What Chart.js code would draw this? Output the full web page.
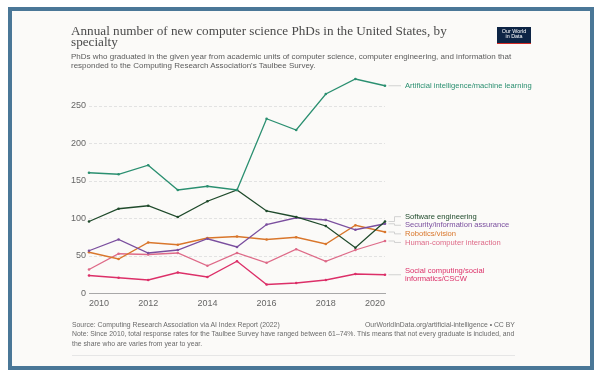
<!DOCTYPE html>
<html>
<head>
<meta charset="utf-8">
<script src="https://cdn.jsdelivr.net/npm/chart.js@4.4.0/dist/chart.umd.min.js"></script>
<style>
  html, body { margin: 0; padding: 0; background: #ffffff; width: 614px; height: 379px; overflow: hidden; }
  #frame { position: absolute; left: 8px; top: 7px; width: 578px; height: 355px; border: 4px solid #4a7797; background: #fbfaf8; }
  #chart { position: absolute; left: 0; top: 0; }
  .t { position: absolute; white-space: nowrap; will-change: transform; -webkit-font-smoothing: antialiased; }
  #title { left: 71px; top: 25.8px; font-family: "Liberation Serif", "Times New Roman", serif; font-size: 13.2px; line-height: 10.5px; color: #4a4a4a; }
  #subtitle { left: 71px; top: 51.6px; font-family: "Liberation Sans", Arial, sans-serif; font-size: 8px; line-height: 9.4px; color: #5b5b5b; }
  #logo { position: absolute; left: 497px; top: 27px; width: 34px; height: 14.5px; background: #0d2445; border-bottom: 1.8px solid #d42a24; color: #fff; font-family: "Liberation Sans", Arial, sans-serif; font-size: 5.4px; line-height: 5.6px; text-align: center; padding-top: 1.6px; box-sizing: content-box; will-change: transform; }
  #src { left: 72px; top: 319.6px; font-family: "Liberation Sans", Arial, sans-serif; font-size: 6.85px; line-height: 9.8px; color: #6a6a6a; }
  #url { right: 99px; top: 319.6px; font-family: "Liberation Sans", Arial, sans-serif; font-size: 6.85px; line-height: 9.8px; color: #6a6a6a; }
  #note { left: 72px; top: 329.4px; font-family: "Liberation Sans", Arial, sans-serif; font-size: 6.85px; line-height: 9.9px; color: #6a6a6a; }
  #rule { position: absolute; left: 72px; top: 355px; width: 443px; height: 0; border-top: 1px solid #e6e6e6; }
</style>
</head>
<body>
<div id="frame"></div>
<div class="t" id="title">Annual number of new computer science PhDs in the United States, by<br>specialty</div>
<div class="t" id="subtitle">PhDs who graduated in the given year from academic units of computer science, computer engineering, and information that<br>responded to the Computing Research Association's Taulbee Survey.</div>
<div id="logo">Our World<br>in Data</div>
<canvas id="chart" width="614" height="379"></canvas>
<div class="t" id="src">Source: Computing Research Association via AI Index Report (2022)</div>
<div class="t" id="url">OurWorldInData.org/artificial-intelligence • CC BY</div>
<div class="t" id="note">Note: Since 2010, total response rates for the Taulbee Survey have ranged between 61–74%. This means that not every graduate is included, and<br>the share who are varies from year to year.</div>
<div id="rule"></div>
<script>
// ---- data ----
const years = [2010, 2011, 2012, 2013, 2014, 2015, 2016, 2017, 2018, 2019, 2020];
const aiML = [161, 159, 171, 138, 143, 138, 233, 218, 266, 286, 277];
const softwareEng = [96, 113, 117, 102, 123, 138, 110, 102, 90, 61, 96];
const security = [57, 72, 54, 58, 73, 62, 92, 101, 98, 85, 93];
const robotics = [55, 46, 68, 65, 74, 76, 72, 75, 66, 91, 82];
const hci = [32, 53, 52, 54, 37, 54, 41, 59, 43, 58, 70];
const socialComputing = [24, 21, 18, 28, 22, 43, 12, 14, 18, 26, 25];
const yTicks = [0, 50, 100, 150, 200, 250];
const xTicks = [2010, 2012, 2014, 2016, 2018, 2020];

const seriesNames = [
  ["Artificial intelligence/machine learning"],
  ["Software engineering"],
  ["Security/information assurance"],
  ["Robotics/vision"],
  ["Human-computer interaction"],
  ["Social computing/social", "informatics/CSCW"]
];
const seriesValues = [aiML, softwareEng, security, robotics, hci, socialComputing];
const seriesColors = ["#2a8f70", "#1f4a2b", "#7a4e9e", "#d9762b", "#de6a88", "#dc2f68"];

const FONT = '"Liberation Sans", Arial, sans-serif';

const datasets = seriesValues.map((vals, i) => ({
  label: seriesNames[i].join(" "),
  data: vals.map((v, j) => ({ x: years[j], y: v })),
  borderColor: seriesColors[i],
  backgroundColor: seriesColors[i],
  borderWidth: 1.3,
  pointRadius: 1.3,
  pointHoverRadius: 1.3,
  pointBorderWidth: 0,
  tension: 0,
  clip: false
}));

const endLabels = {
  id: 'endLabels',
  afterDatasetsDraw(chart) {
    const ctx = chart.ctx;
    const ys = chart.scales.y;
    const area = chart.chartArea;
    const lh = 8.6;
    let items = seriesValues.map((vals, i) => ({
      i, target: ys.getPixelForValue(vals[vals.length - 1]), h: seriesNames[i].length * lh
    }));
    items.sort((a, b) => a.target - b.target);
    let clusters = [];
    items.forEach(it => {
      clusters.push({ items: [it], top: it.target - it.h / 2, h: it.h });
      while (clusters.length > 1) {
        const c = clusters[clusters.length - 1], p = clusters[clusters.length - 2];
        if (p.top + p.h > c.top) {
          const merged = { items: p.items.concat(c.items), h: p.h + c.h };
          let off = 0, sum = 0;
          merged.items.forEach(m => { sum += m.target - (off + m.h / 2); off += m.h; });
          merged.top = sum / merged.items.length;
          clusters.splice(clusters.length - 2, 2, merged);
        } else break;
      }
    });
    ctx.save();
    ctx.font = '7.6px ' + FONT;
    ctx.textBaseline = 'middle';
    ctx.textAlign = 'left';
    const x0 = area.right + 3.5, xm = area.right + 9.5, x1 = area.right + 16, xt = area.right + 20;
    clusters.forEach(c => {
      let off = c.top;
      c.items.forEach(it => {
        const center = off + it.h / 2;
        ctx.strokeStyle = '#c8c8c8';
        ctx.lineWidth = 0.8;
        ctx.beginPath();
        ctx.moveTo(x0, it.target);
        if (Math.abs(center - it.target) > 0.8) {
          ctx.lineTo(xm, it.target);
          ctx.lineTo(xm, center);
        }
        ctx.lineTo(x1, center);
        ctx.stroke();
        ctx.fillStyle = seriesColors[it.i];
        const lines = seriesNames[it.i];
        lines.forEach((ln, k) => {
          ctx.fillText(ln, xt, off + lh / 2 + k * lh);
        });
        off += it.h;
      });
    });
    ctx.restore();
  }
};

new Chart(document.getElementById('chart'), {
  type: 'line',
  data: { datasets },
  options: {
    responsive: false,
    animation: false,
    events: [],
    layout: { padding: { left: 0, right: 229, top: 77.5, bottom: 65.5 } },
    plugins: { legend: { display: false }, tooltip: { enabled: false } },
    scales: {
      x: {
        type: 'linear',
        min: 2010,
        max: 2020,
        afterBuildTicks(scale) { scale.ticks = xTicks.map(v => ({ value: v })); },
        afterFit(scale) { scale.height = 20; },
        grid: { display: false, drawTicks: false },
        border: { display: true, color: '#a8a8a8', width: 1 },
        ticks: {
          align: 'inner',
          padding: 4.5,
          color: '#666666',
          font: { family: FONT, size: 9 },
          maxRotation: 0,
          autoSkip: false,
          callback: v => String(v)
        }
      },
      y: {
        min: 0,
        max: 288,
        afterBuildTicks(scale) { scale.ticks = yTicks.map(v => ({ value: v })); },
        afterFit(scale) { scale.width = 89; },
        grid: {
          color: ctx => ctx.tick && ctx.tick.value === 0 ? 'rgba(0,0,0,0)' : '#dcdcdc',
          lineWidth: 0.8,
          drawTicks: false
        },
        border: { display: false, dash: [3, 2] },
        ticks: {
          padding: 3,
          color: '#666666',
          font: { family: FONT, size: 9 },
          callback: v => String(v)
        }
      }
    }
  },
  plugins: [endLabels]
});
</script>
</body>
</html>
